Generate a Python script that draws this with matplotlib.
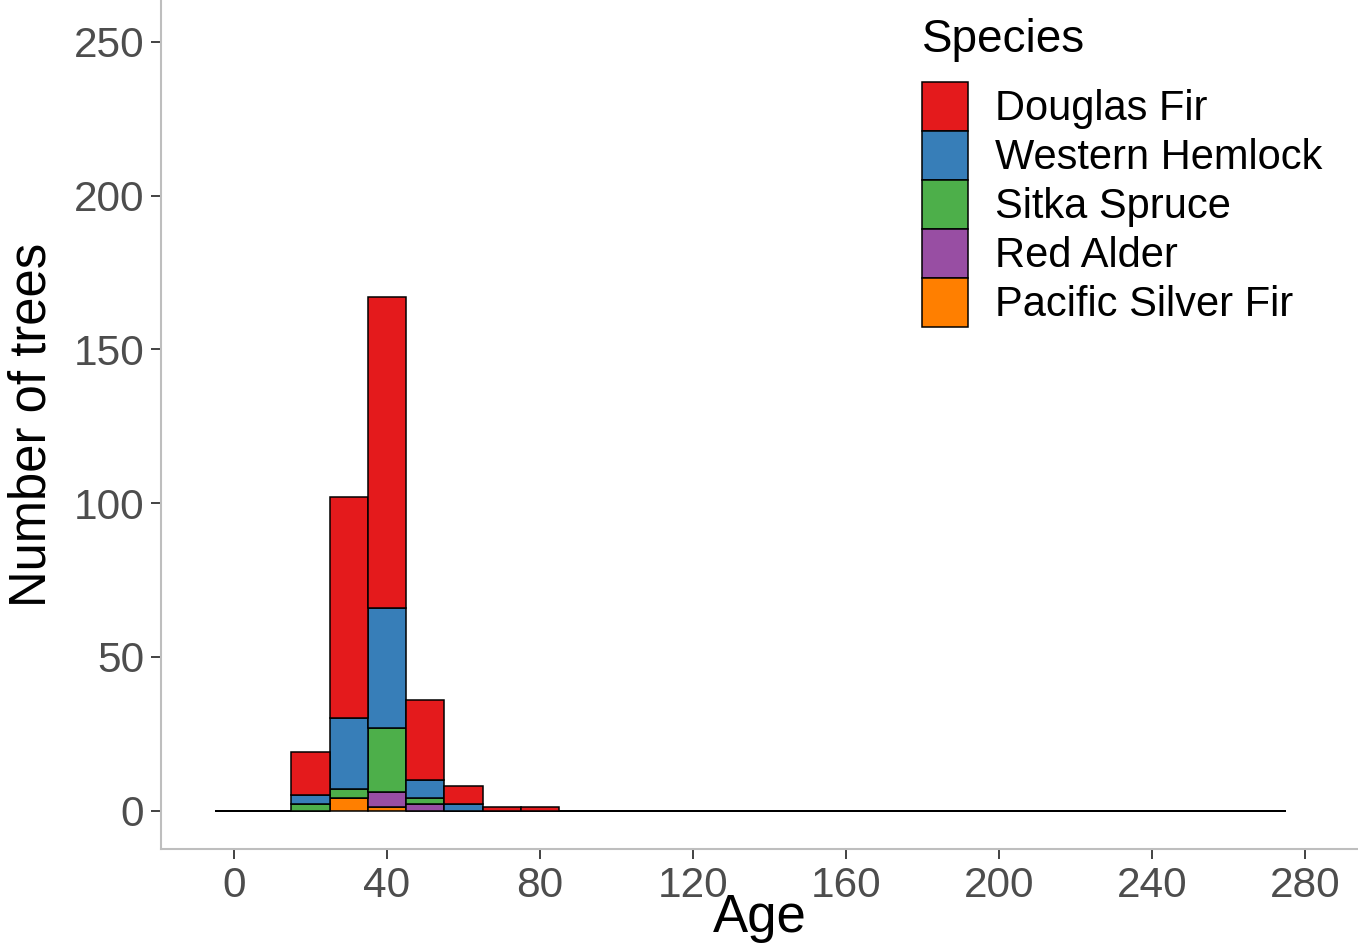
import matplotlib
matplotlib.use("Agg")
import matplotlib.pyplot as plt
from matplotlib.patches import Patch
import numpy as np

plt.rcParams['font.family'] = ['Liberation Sans', 'DejaVu Sans']

# Histogram bins (centers, width 10)
bin_centers = list(range(0, 280, 10))
species = ["Douglas Fir", "Western Hemlock", "Sitka Spruce", "Red Alder", "Pacific Silver Fir"]
colors = ["#E41A1C", "#377EB8", "#4DAF4A", "#984EA3", "#FF7F00"]

# counts per bin center (only non-zero bins listed; others zero)
douglas_fir     = {20: 14, 30: 72, 40: 101, 50: 26, 60: 6, 70: 1, 80: 1}
western_hemlock = {20: 3,  30: 23, 40: 39,  50: 6,  60: 2}
sitka_spruce    = {20: 2,  30: 3,  40: 21,  50: 2}
red_alder       = {40: 5,  50: 2}
pacific_silver  = {30: 4,  40: 1}

series = [douglas_fir, western_hemlock, sitka_spruce, red_alder, pacific_silver]

fig = plt.figure(figsize=(13.58, 9.46), dpi=100)
ax = fig.add_axes([161/1358, 97/946, 1 - 161/1358, 1 - 97/946])

# stack from bottom: Pacific Silver Fir at bottom, Douglas Fir on top
order = list(range(len(species)))[::-1]
bottom = np.zeros(len(bin_centers))
for i in order:
    vals = np.array([series[i].get(c, 0) for c in bin_centers], dtype=float)
    ax.bar(bin_centers, vals, width=10, bottom=bottom, color=colors[i],
           edgecolor="black", linewidth=1.1, zorder=2)
    bottom += vals

ax.set_xlim(-19.1, 293.9)
ax.set_ylim(-12.5, 263.6)
ax.set_xticks(range(0, 281, 40))
ax.set_yticks(range(0, 251, 50))

for s in ["top", "right"]:
    ax.spines[s].set_visible(False)
for s in ["left", "bottom"]:
    ax.spines[s].set_color("#BEBEBE")
    ax.spines[s].set_linewidth(1.5)

ax.tick_params(axis="both", which="major", length=7, width=1.3, color="#333333",
               labelsize=30.5, labelcolor="#4D4D4D", pad=5)

ax.set_xlabel("Age", fontsize=38, color="black", labelpad=-9)
ax.set_ylabel("Number of trees", fontsize=36.5, color="black", labelpad=12)

fig.text(922/1358, 1 - 40/946, "Species", fontsize=33, color="black",
         ha="left", va="center")

handles = [Patch(facecolor=c, edgecolor="black", linewidth=1.1) for c in colors]
leg = ax.legend(handles, species, loc="upper left",
                bbox_to_anchor=(922/1358, 1 - 82/946), bbox_transform=fig.transFigure,
                frameon=False, fontsize=30,
                handlelength=1.1, handleheight=1.43, labelspacing=0.0,
                handletextpad=0.65, borderaxespad=0, borderpad=0)

fig.savefig("out.png", dpi=100)
